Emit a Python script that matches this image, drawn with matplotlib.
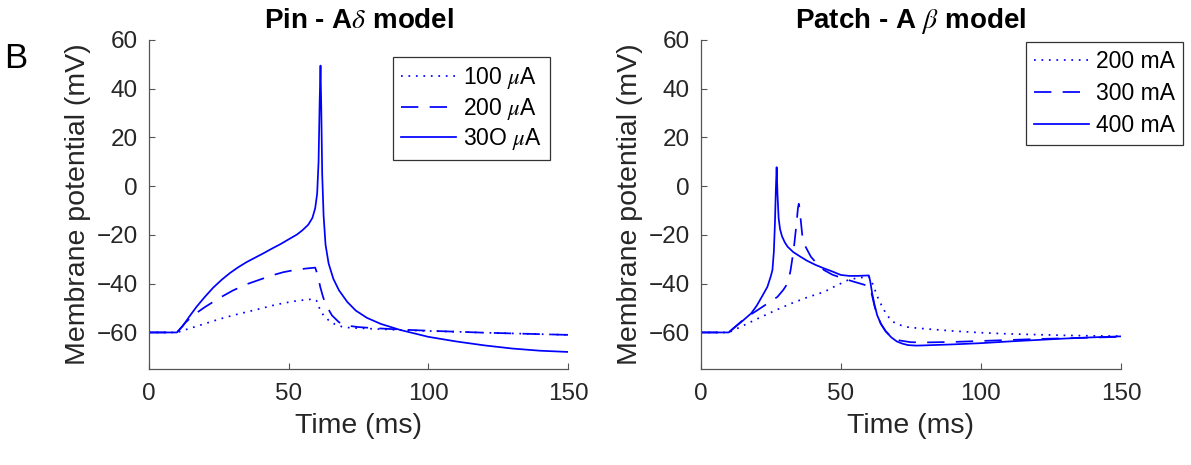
import matplotlib
matplotlib.use("Agg")
import matplotlib.pyplot as plt

plt.rcParams['font.family'] = ['Liberation Sans', 'DejaVu Sans']
plt.rcParams['mathtext.fontset'] = 'stix'

# ---------------- data: Pin - A-delta model ----------------
pin_t_100 = [0, 10, 15, 20, 25, 30, 35, 40, 44, 48, 52, 56, 59, 60, 61.3, 62.5, 64.3,
             66.5, 69, 72, 76, 80, 90, 100, 110, 120, 130, 140, 150]
pin_v_100 = [-60, -60, -58.2, -56.4, -54.6, -53, -51.6, -50.2, -49, -48, -47.2, -46.6,
             -46.3, -47, -50.9, -53, -55, -56.6, -57.6, -58.1, -58.3, -58.5, -59, -59.4,
             -59.7, -60.1, -60.4, -60.7, -61]

pin_t_200 = [0, 10, 13, 16, 20, 25, 30, 35, 40, 44, 48, 52, 56, 59.5, 60.4, 61.3, 62.2,
             63.1, 65.5, 68, 70.2, 75, 80, 90, 100, 110, 120, 130, 140, 150]
pin_v_200 = [-60, -60, -56, -52.8, -49.6, -46, -42.8, -40.2, -38.2, -36.6, -35.3, -34.4,
             -33.8, -33.4, -36.5, -41.3, -45, -48.2, -53, -55.8, -57.1, -57.8, -58.2,
             -58.8, -59.3, -59.7, -60.1, -60.4, -60.7, -61]

pin_t_300 = [0, 10, 12, 14.3, 17, 20, 23, 26, 29, 32, 35, 38, 41, 44, 47, 50, 53, 55,
             57, 58.5, 59.5, 60.2, 60.7, 61.1, 61.4, 61.7, 62.0, 62.5, 63.2, 64.3, 66,
             68, 71, 74, 78, 83, 90, 100, 110, 120, 130, 140, 150]
pin_v_300 = [-60, -60, -57.5, -53.7, -49.5, -45.4, -41.6, -38.4, -35.6, -33.2, -31.1,
             -29.3, -27.5, -25.6, -23.8, -21.8, -19.8, -18, -15.8, -13, -9, -3, 10, 35,
             49.5, 30, 5, -12, -24, -31.7, -38, -42.7, -47.5, -51, -54, -56.5, -59,
             -61.8, -63.7, -65.3, -66.6, -67.5, -68]

# ---------------- data: Patch - A-beta model ----------------
pat_t_200 = [0, 10, 15, 20.2, 26, 32.1, 38, 44, 48, 52.4, 56, 60.1, 61, 62, 63.1, 64.5,
             66, 67.9, 70, 73.8, 76.2, 80, 90, 100, 110, 120, 130, 140, 150]
pat_v_200 = [-60, -60, -57.3, -54.4, -51.3, -48.2, -45.6, -43.4, -41, -38.6, -37.6,
             -37.2, -39, -42, -45.4, -48.8, -52, -55, -56.6, -57.8, -58.1, -58.5, -59.4,
             -60.1, -60.6, -60.9, -61.2, -61.4, -61.5]

pat_t_300 = [0, 10, 13, 16, 20.2, 24, 27.4, 29.5, 31, 32, 32.8, 33.3, 34.2, 34.7, 35,
             35.3, 35.8, 36.3, 37.5, 39.3, 41.5, 44, 47, 51, 55, 58, 60.5, 61.2, 62, 63,
             64.3, 66, 68, 71, 75, 80, 90, 100, 110, 120, 130, 140, 150]
pat_v_300 = [-60, -60, -57, -54, -50.9, -48, -45.4, -42.5, -39.9, -35, -29, -24.8, -15.2,
             -9, -7.2, -9, -15, -20.7, -25, -28.9, -31.8, -34.4, -36.3, -37.9, -39.3,
             -40.3, -41.3, -45, -49, -53, -56.5, -59.5, -61.8, -63.3, -64, -64.1, -63.9,
             -63.5, -63.1, -62.7, -62.4, -62.1, -61.8]

pat_t_400 = [0, 10, 12, 15, 18, 20, 22, 23.8, 25, 25.6, 26.1, 26.5, 26.8, 27.1, 27.4,
             27.8, 28.3, 29, 30, 31, 33, 35.7, 38, 41, 44, 47, 50, 53, 56, 60, 60.5,
             61.2, 62, 63, 64.3, 66, 68, 70, 72, 74, 77, 80, 90, 100, 110, 120, 130,
             140, 150]
pat_v_400 = [-60, -60, -58, -55.2, -52.2, -49, -45, -41.3, -37, -34.4, -27, -15, -2,
             7.8, -3, -13, -17.5, -20.5, -23, -24.8, -27, -29, -30.6, -32.3, -33.7, -35,
             -36.4, -36.8, -36.8, -36.6, -39, -44, -48.5, -53, -56.4, -59.5, -62, -63.7,
             -64.6, -65.2, -65.4, -65.3, -64.9, -64.4, -63.7, -63.1, -62.5, -62, -61.6]

pin_labels = ['100 $\\mu$A', '200 $\\mu$A', '30O $\\mu$A']
pat_labels = ['200 mA', '300 mA', '400 mA']
xticks = [0, 50, 100, 150]
yticks = [-60, -40, -20, 0, 20, 40, 60]

# ---------------- figure ----------------
fig = plt.figure(figsize=(11.91, 4.65), dpi=100)
ax1 = fig.add_axes([149 / 1191, 96 / 465, 419 / 1191, 329 / 465])
ax2 = fig.add_axes([700.7 / 1191, 96 / 465, 420.3 / 1191, 329 / 465])

blue = (0, 0, 1)
lw = 1.25
dot = (0, (1, 3.3))
dash = (0, (10, 6.5))
axc = '#262626'


def style(ax):
    ax.set_xlim(0, 150)
    ax.set_ylim(-75, 60)
    ax.set_xticks(xticks)
    ax.set_yticks(yticks)
    for s in ['top', 'right']:
        ax.spines[s].set_visible(False)
    for s in ['left', 'bottom']:
        ax.spines[s].set_color('#555555')
        ax.spines[s].set_linewidth(0.9)
    ax.tick_params(direction='in', length=4, width=0.8, colors='#555555',
                   labelcolor=axc, labelsize=17.5)
    ax.tick_params(axis='y', pad=8)
    ax.tick_params(axis='x', pad=10)
    ax.set_xlabel('Time (ms)', fontsize=20.5, color=axc, labelpad=6)
    ax.set_ylabel('Membrane potential (mV)', fontsize=20.5, color=axc, labelpad=4)


ax1.plot(pin_t_100, pin_v_100, color=blue, lw=lw, linestyle=dot, label=pin_labels[0])
ax1.plot(pin_t_200, pin_v_200, color=blue, lw=lw, linestyle=dash, label=pin_labels[1])
ax1.plot(pin_t_300, pin_v_300, color=blue, lw=lw, linestyle='-', label=pin_labels[2])
style(ax1)
ax1.set_title('Pin - A$\\delta$ model', fontsize=20, fontweight='bold', pad=9)

ax2.plot(pat_t_200, pat_v_200, color=blue, lw=lw, linestyle=dot, label=pat_labels[0])
ax2.plot(pat_t_300, pat_v_300, color=blue, lw=lw, linestyle=dash, label=pat_labels[1])
ax2.plot(pat_t_400, pat_v_400, color=blue, lw=lw, linestyle='-', label=pat_labels[2])
style(ax2)
ax2.set_title('Patch - A $\\beta$ model', fontsize=20, fontweight='bold', pad=9)

leg_kw = dict(fontsize=16.5, frameon=True, fancybox=False, framealpha=1,
              edgecolor='#333333', handlelength=2.4, handletextpad=0.3,
              borderpad=0.35, borderaxespad=0)
l1 = ax1.legend(loc='upper right', bbox_to_anchor=(0.957, 0.948),
                labelspacing=0.2, **leg_kw)
l2 = ax2.legend(loc='upper left', bbox_to_anchor=(0.774, 0.995),
                labelspacing=0.4, **leg_kw)
for l in (l1, l2):
    l.get_frame().set_linewidth(0.9)

fig.text(16 / 1191, 1 - 58 / 465, 'B', fontsize=25, ha='center', va='center')

fig.savefig('out.png', dpi=100)
